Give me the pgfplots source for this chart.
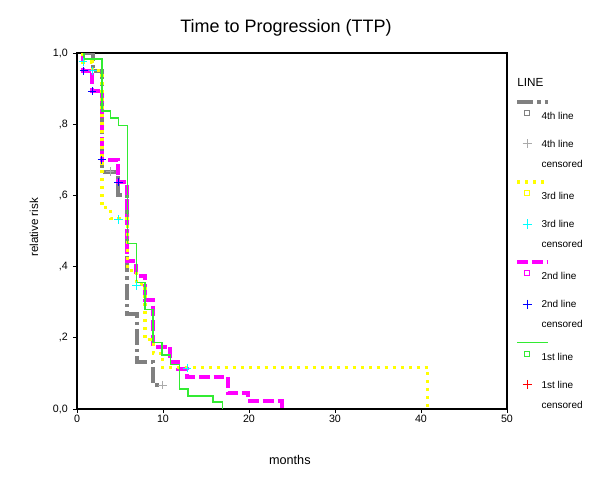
\documentclass[border=0pt]{standalone}
\usepackage{pgfplots}
\pgfplotsset{compat=1.18}
\usepackage{fontspec}
\setmainfont{Liberation Sans}

\definecolor{kmgray}{RGB}{128,128,128}
\definecolor{kmlgray}{RGB}{170,170,170}
\definecolor{kmyellow}{RGB}{255,255,0}
\definecolor{kmmagenta}{RGB}{255,0,255}
\definecolor{kmgreen}{RGB}{50,235,50}
\definecolor{kmblue}{RGB}{0,0,255}
\definecolor{kmcyan}{RGB}{0,255,255}
\definecolor{kmred}{RGB}{255,0,0}

\tikzset{
  line4/.style={kmgray, line width=3pt, dash pattern=on 12pt off 3pt on 2.5pt off 3pt},
  line3/.style={kmyellow, line width=2.4pt, dash pattern=on 2.4pt off 3.6pt},
  line2/.style={kmmagenta, line width=3pt, dash pattern=on 8pt off 3pt},
  line1/.style={kmgreen, line width=1pt},
}
\pgfplotsset{
  cens/.style={only marks, mark=+, mark size=3.2pt, mark options={line width=0.7pt}, forget plot},
}

% legend block for one line: sample, square, plus
\newcommand{\grouplegend}[3]{%
  \draw[#1, overlay] (0pt,0pt) -- (23.25pt,0pt);
  \draw[#2, line width=0.6pt, overlay] (5.6pt,-6.4pt) rectangle (9.4pt,-10.2pt);
  \draw[#3, line width=0.6pt, overlay] (4.1pt,-31.5pt) -- (10.9pt,-31.5pt) (7.5pt,-28.1pt) -- (7.5pt,-34.9pt);
  \path (0pt,6pt) (18pt,-53.75pt);
}
\newcommand{\grouptext}[1]{%
  \rlap{\raisebox{-13.2pt}{#1 line}}\rlap{\raisebox{-34.2pt}{#1 line}}\raisebox{-49.2pt}{censored}}

\begin{document}
\begin{tikzpicture}
\useasboundingbox (-57.75pt,-53.25pt) rectangle (392.25pt,306.75pt);
\begin{axis}[
  at={(0,0)}, anchor=south west,
  width=322.5pt, height=267pt, scale only axis,
  xmin=0, xmax=50, ymin=0, ymax=1,
  xtick={0,10,20,30,40,50}, xticklabels={0,10,20,30,40,50},
  ytick={0,0.2,0.4,0.6,0.8,1}, yticklabels={{0,0},{,2},{,4},{,6},{,8},{1,0}},
  xtick pos=bottom, ytick pos=left,
  tick align=outside, major tick length=3pt,
  tick style={black, line width=0.6pt},
  axis line style={black, line width=0.8pt},
  ticklabel style={font=\fontsize{8}{9}\selectfont, inner sep=0pt},
  xticklabel shift=1.5pt, yticklabel shift=3.75pt,
  title={Time to Progression (TTP)},
  title style={font=\fontsize{13.5}{16}\selectfont, at={(axis description cs:0.486,1.048)}, anchor=center},
  xlabel={months},
  xlabel style={font=\fontsize{9.5}{11}\selectfont, at={(axis description cs:0.495,-0.143)}, anchor=center},
  ylabel={relative risk},
  ylabel style={font=\fontsize{8.7}{10}\selectfont, at={(axis description cs:-0.1,0.51)}, anchor=center},
  legend style={at={(axis description cs:1.0233,0.9404)}, anchor=north west,
    draw=none, fill=none, inner sep=0pt, outer sep=0pt, row sep=0pt, column sep=0pt,
    font=\fontsize{7.5}{9}\selectfont, cells={anchor=base west},
    nodes={inner sep=0pt, text height=0pt, text depth=0pt}},
]
% 4th line
\addplot[line4, const plot, forget plot] coordinates {
  (0.9,1)(1.85,0.95)(2.9,0.667)(4.8,0.6)(5.85,0.267)(6.95,0.133)(8.85,0.067)(9.9,0.067)};
% 2nd line
\addplot[line2, const plot, forget plot] coordinates {
  (0.7,1)(0.7,0.95)(1.8,0.893)(2.9,0.70)(4.8,0.637)(5.85,0.415)(6.9,0.375)(7.9,0.307)
  (8.85,0.175)(10.8,0.132)(11.8,0.112)(12.8,0.09)(17.6,0.045)(19.9,0.022)(23.8,0.022)(23.8,0)};
% 3rd line
\addplot[line3, const plot, forget plot] coordinates {
  (0.7,1)(0.7,0.975)(1.8,0.95)(2.9,0.565)(3.85,0.535)(5.85,0.39)(6.9,0.35)(7.9,0.195)
  (8.85,0.157)(9.9,0.117)(40.8,0)};
% 1st line
\addplot[line1, const plot, forget plot] coordinates {
  (0.8,1)(0.8,0.983)(2.9,0.837)(3.9,0.817)(4.8,0.797)(5.85,0.465)(6.95,0.355)(7.9,0.28)
  (8.85,0.186)(9.9,0.152)(10.9,0.125)(11.9,0.056)(12.9,0.037)(15.8,0.02)(16.9,0)};
% censored
\addplot[cens, kmlgray] coordinates {(3.85,0.667)(9.95,0.067)};
\addplot[cens, kmcyan] coordinates {(0.7,0.975)(1.85,0.95)(4.8,0.533)(6.9,0.347)(12.8,0.115)};
\addplot[cens, kmblue] coordinates {(0.8,0.95)(1.75,0.893)(2.9,0.70)(4.8,0.637)};

% legend
\addlegendimage{legend image code/.code={\node[overlay, anchor=base west, inner sep=0pt, font=\fontsize{8.8}{10}\selectfont] at (0pt,0pt) {LINE}; \path (0pt,9pt) (18pt,-5.1pt);}}
\addlegendentry{}
\addlegendimage{legend image code/.code={\grouplegend{line4}{kmgray}{kmlgray}}}
\addlegendentry{\grouptext{4th}}
\addlegendimage{legend image code/.code={\grouplegend{line3}{kmyellow}{kmcyan}}}
\addlegendentry{\grouptext{3rd}}
\addlegendimage{legend image code/.code={\grouplegend{line2}{kmmagenta}{kmblue}}}
\addlegendentry{\grouptext{2nd}}
\addlegendimage{legend image code/.code={\grouplegend{line1}{kmgreen}{kmred}}}
\addlegendentry{\grouptext{1st}}
\end{axis}
\end{tikzpicture}
\end{document}
